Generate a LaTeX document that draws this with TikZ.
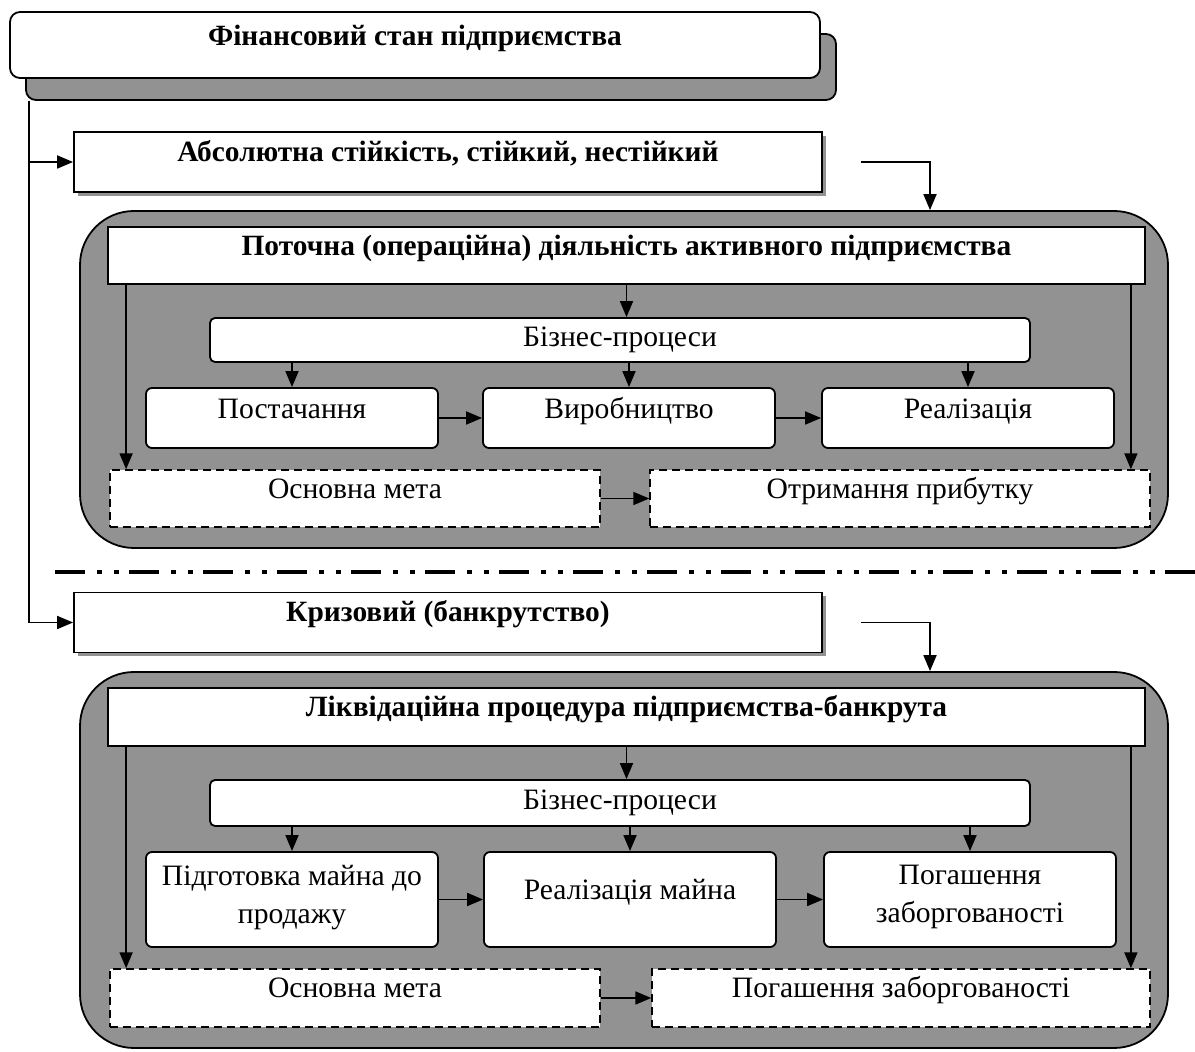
\documentclass[tikz,border=0pt]{standalone}
\usepackage{fontspec}
\setmainfont{Liberation Serif}
\usepackage{tikz}
\usetikzlibrary{positioning,shadows,arrows.meta}
\definecolor{shade}{HTML}{929292}

\begin{document}
\begin{tikzpicture}[x=0.5pt,y=-0.5pt,
			finbox/.style={rectangle, rounded corners=5pt, draw, line width=0.9pt, fill=white, minimum width=405pt, minimum height=33pt, font=\fontsize{14.7}{19}\selectfont\bfseries, text height=10pt, text depth=9.8pt, drop shadow={shadow xshift=8pt, shadow yshift=-11pt, fill=shade, draw=black, opacity=1}},
			statebox/.style={rectangle, draw, line width=0.9pt, fill=white, minimum width=374pt, minimum height=30pt, font=\fontsize{14.7}{19}\selectfont\bfseries, text height=10pt, text depth=10.5pt, drop shadow={shadow xshift=2pt, shadow yshift=-2pt, fill=shade, opacity=1}},
			stage/.style={rectangle, rounded corners=27pt, draw, line width=0.9pt, fill=shade, minimum width=544pt},
			headbox/.style={rectangle, draw, line width=0.9pt, fill=white, minimum width=518.5pt, font=\fontsize{14.7}{19}\selectfont\bfseries, text height=10pt, text depth=10.3pt},
			bizbox/.style={rectangle, rounded corners=2.5pt, draw, line width=0.9pt, fill=white, minimum width=410pt, font=\fontsize{14.8}{19}\selectfont, text height=10pt, text depth=3.5pt},
			procbox/.style={rectangle, rounded corners=3pt, draw, line width=0.9pt, fill=white, minimum width=146pt, font=\fontsize{14.8}{19}\selectfont, align=center, text height=10pt, text depth=9.8pt},
			goalbox/.style={rectangle, draw, line width=0.7pt, dash pattern=on 4pt off 2.5pt, fill=white, font=\fontsize{14.8}{19}\selectfont, text height=10pt, text depth=10.3pt},
			arr/.style={line width=0.9pt, -{Triangle[length=8pt,width=6.5pt]}},
			sepline/.style={line width=2pt, dash pattern=on 15pt off 6pt on 2.5pt off 6pt on 2.5pt off 5pt},
			]
			\useasboundingbox (0,0) rectangle (1195,1052);

			%Nodes
				\node[finbox]		(fin)		at (415,45)		{Фінансовий стан підприємства};
				\node[statebox]		(abs1)		at (448,162)	{Абсолютна стійкість, стійкий, нестійкий};

				\node[stage, minimum height=168.5pt]		(stage1)	at (624,379.5)	{};
				\node[headbox, minimum height=28.5pt]		(head1)		at (626.5,255.5)	{Поточна (операційна) діяльність активного підприємства};
				\node[bizbox, minimum height=22pt]		(biz1)		at (620,340)	{Бізнес-процеси};
				\node[procbox, minimum height=30pt]		(supply)	at (292,418)	{Постачання};
				\node[procbox, minimum height=30pt]		(produce)	at (629,418)	{Виробництво};
				\node[procbox, minimum height=30pt]		(sales)		at (968,418)	{Реалізація};
				\node[goalbox, minimum width=245pt, minimum height=28.5pt]	(goal1)		at (355,498.5)	{Основна мета};
				\node[goalbox, minimum width=250pt, minimum height=28.5pt]	(profit)	at (900,498.5)	{Отримання прибутку};

				\node[statebox]		(crisis)	at (448,622.5)	{Кризовий (банкрутство)};

				\node[stage, minimum height=188pt]		(stage2)	at (624,860)	{};
				\node[headbox, minimum height=29pt]		(head2)		at (626.5,717)	{Ліквідаційна процедура підприємства-банкрута};
				\node[bizbox, minimum height=23pt]		(biz2)		at (620,803)	{Бізнес-процеси};
				\node[procbox, minimum height=47.5pt, text height=, text depth=5.6pt]	(prepare)	at (292,899.5)	{Підготовка майна до\\продажу};
				\node[procbox, minimum height=47.5pt, text depth=10.3pt]	(sellout)	at (630,899.5)	{Реалізація майна};
				\node[procbox, minimum height=47.5pt, text height=, text depth=5.6pt]	(repay)		at (970,899.5)	{Погашення\\заборгованості};
				\node[goalbox, minimum width=245pt, minimum height=29pt]	(goal2)		at (355,998)	{Основна мета};
				\node[goalbox, minimum width=249pt, minimum height=29pt]	(debt)		at (901,998)	{Погашення заборгованості};

				\coordinate (trunk) at ([xshift=10pt,yshift=-11pt]fin.south west);

			%Lines
				\draw[arr] (trunk) |- (abs1.west);
				\draw[arr] (trunk) |- (crisis.west);
				\draw[arr] ([xshift=19pt]abs1.east) -| ([xshift=153pt]stage1.north);
				\draw[arr] ([xshift=19pt]crisis.east) -| ([xshift=153pt]stage2.north);

				\draw[arr] (head1.south) -- (head1.south |- biz1.north);
				\draw[arr] (supply.north |- biz1.south) -- (supply.north);
				\draw[arr] (produce.north |- biz1.south) -- (produce.north);
				\draw[arr] (sales.north |- biz1.south) -- (sales.north);
				\draw[arr] (supply.east) -- (produce.west);
				\draw[arr] (produce.east) -- (sales.west);
				\draw[arr] ([xshift=9.5pt]head1.south west) -- ([xshift=9.5pt]head1.south west |- goal1.north);
				\draw[arr] ([xshift=-7.5pt]head1.south east) -- ([xshift=-7.5pt]head1.south east |- profit.north);
				\draw[arr] (goal1.east) -- (profit.west);

				\draw[sepline] (55,572) -- (1195,572);

				\draw[arr] (head2.south) -- (head2.south |- biz2.north);
				\draw[arr] (prepare.north |- biz2.south) -- (prepare.north);
				\draw[arr] (sellout.north |- biz2.south) -- (sellout.north);
				\draw[arr] (repay.north |- biz2.south) -- (repay.north);
				\draw[arr] (prepare.east) -- (sellout.west);
				\draw[arr] (sellout.east) -- (repay.west);
				\draw[arr] ([xshift=9.5pt]head2.south west) -- ([xshift=9.5pt]head2.south west |- goal2.north);
				\draw[arr] ([xshift=-7.5pt]head2.south east) -- ([xshift=-7.5pt]head2.south east |- debt.north);
				\draw[arr] (goal2.east) -- (debt.west);
		\end{tikzpicture}
\end{document}
